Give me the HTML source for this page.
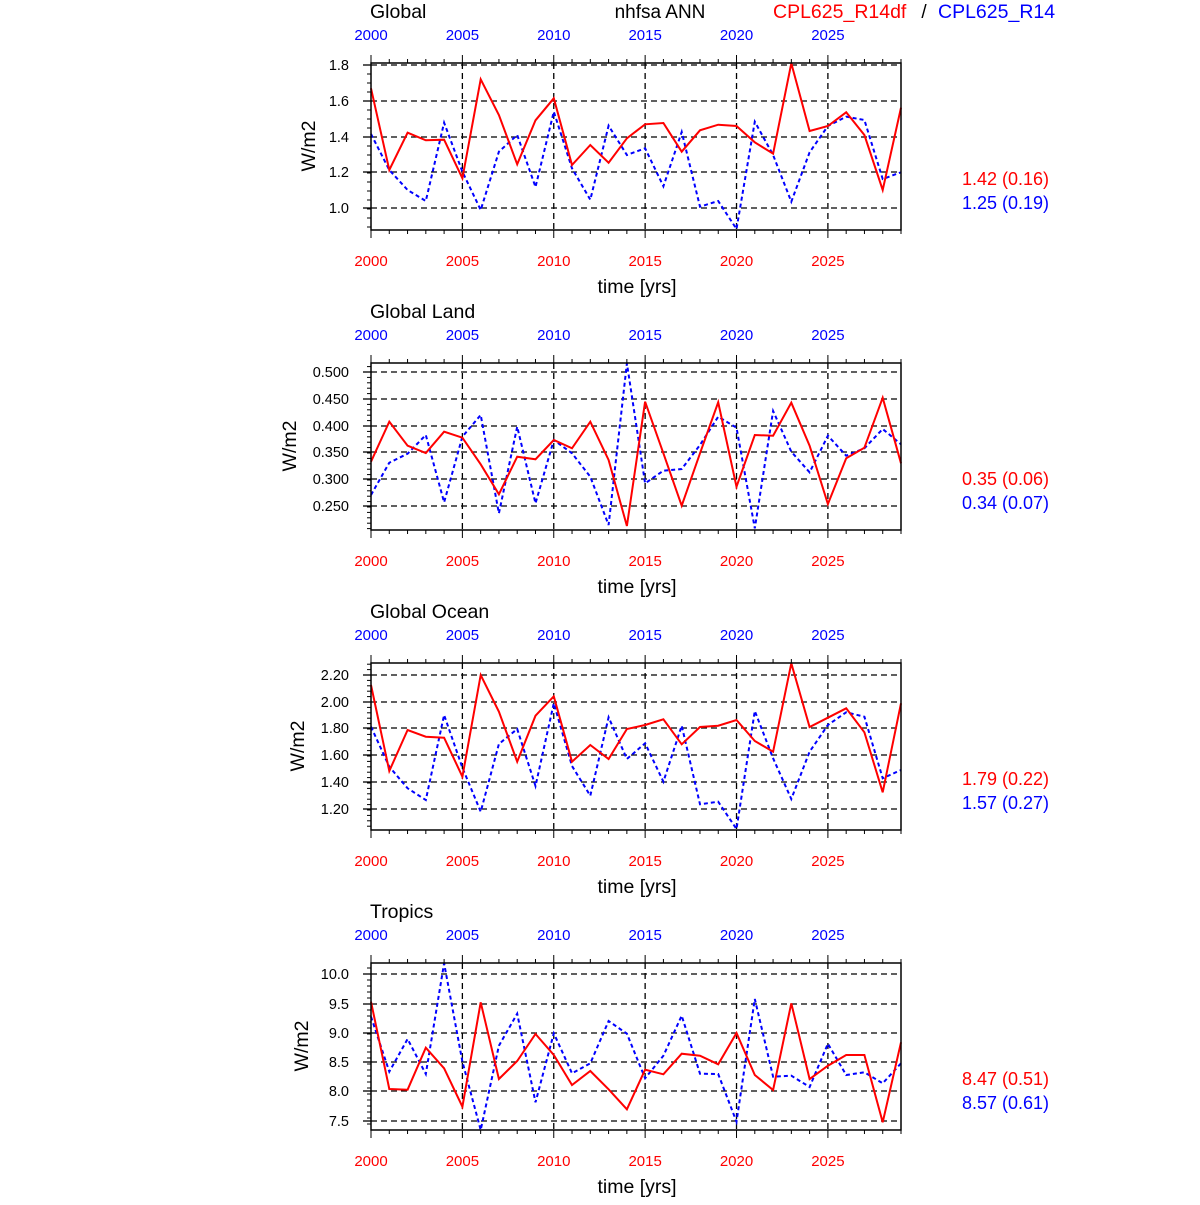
<!DOCTYPE html>
<html><head><meta charset="utf-8"><style>
html,body{margin:0;padding:0;background:#fff;}
svg text{font-family:"Liberation Sans",sans-serif;}
</style></head><body>
<svg id="s" width="1200" height="1200" xmlns="http://www.w3.org/2000/svg"></svg>
<script>
const S=document.getElementById('s');
let h='';
const X0=371,X1=901,DX=(X1-X0)/29;
const px=i=>X0+DX*i;
h+='<text x="660" y="18" font-size="19" text-anchor="middle">nhfsa ANN</text>';
h+='<text x="773" y="18" font-size="19.5" fill="#f00">CPL625_R14df</text>';
h+='<text x="924" y="18" font-size="19" text-anchor="middle">/</text>';
h+='<text x="938" y="18" font-size="19.5" fill="#00f">CPL625_R14</text>';
const P=[
{t:'Global',yx:315,yl:[['1.8',65],['1.6',101],['1.4',137],['1.2',172],['1.0',208]],minor:4,
r:[100,345,233,256,254,370,73,180,328,196,130,330,270,323,250,208,204,290,226,209,213,262,296,25,228,213,172,240,405,158],
b:[237,345,405,438,203,350,465,290,240,396,170,340,434,212,300,280,394,231,455,438,522,200,300,440,292,213,185,195,372,352],
s:['1.42 (0.16)','1.25 (0.19)'],off:55},
{t:'Global Land',yx:296,yl:[['0.500',372],['0.450',399],['0.400',426],['0.350',452],['0.300',479],['0.250',506]],minor:5,
r:[320,200,272,294,230,248,328,418,305,313,255,280,200,315,513,140,295,452,295,142,395,240,242,143,272,447,310,278,128,325],
b:[420,323,296,240,442,245,180,475,215,445,255,295,365,510,25,385,347,342,270,185,218,520,168,290,352,242,302,280,222,268],
s:['0.35 (0.06)','0.34 (0.07)'],off:355},
{t:'Global Ocean',yx:304,yl:[['2.20',675],['2.00',702],['1.80',728],['1.60',755],['1.40',782],['1.20',809]],minor:5,
r:[90,348,225,245,248,365,60,170,320,182,124,320,270,312,222,210,193,268,216,212,195,258,290,25,216,188,160,232,412,145],
b:[215,335,400,435,180,338,470,267,222,393,145,333,422,187,312,265,380,212,448,440,522,168,310,432,290,210,172,185,370,345],
s:['1.79 (0.22)','1.57 (0.27)'],off:655},
{t:'Tropics',yx:308,yl:[['10.0',974],['9.5',1004],['9.0',1033],['8.5',1062],['8.0',1091],['7.5',1121]],minor:5,
r:[140,402,404,278,340,455,142,372,318,237,300,390,348,403,463,344,358,296,302,328,234,360,405,145,372,332,300,300,502,262],
b:[185,350,252,357,25,320,525,272,176,442,235,355,325,198,236,370,302,182,356,357,500,132,365,362,396,266,360,352,385,325],
s:['8.47 (0.51)','8.57 (0.61)'],off:955}
];
P.forEach((p,k)=>{
 const d=300*k, T=63+d, B=230+d;
 h+=`<text x="370" y="${18+d}" font-size="19.5">${p.t}</text>`;
 for(let y=2000;y<=2025;y+=5){const x=px(y-2000);
  h+=`<text x="${x}" y="${40+d}" font-size="15" fill="#00f" text-anchor="middle">${y}</text>`;
  h+=`<text x="${x}" y="${266+d}" font-size="15" fill="#f00" text-anchor="middle">${y}</text>`;}
 p.yl.forEach(([l,y])=>{h+=`<line x1="${X0}" x2="${X1}" y1="${y}" y2="${y}" stroke="#000" stroke-width="1.3" stroke-dasharray="6,4"/>`;
  h+=`<line x1="${X0-8}" x2="${X0}" y1="${y}" y2="${y}" stroke="#000" stroke-width="1.3"/>`;
  h+=`<text x="${X0-22}" y="${y+5}" font-size="14.5" text-anchor="end">${l}</text>`;});
 const sp=p.yl[1][1]-p.yl[0][1];
 for(let y=p.yl[0][1]-sp;y<B+sp;y+=sp/p.minor){if(y>T&&y<B)h+=`<line x1="${X0-4}" x2="${X0}" y1="${y}" y2="${y}" stroke="#000" stroke-width="1"/>`;}
 for(let y=2005;y<=2025;y+=5){const x=px(y-2000);h+=`<line x1="${x}" x2="${x}" y1="${T}" y2="${B}" stroke="#000" stroke-width="1.3" stroke-dasharray="6,4"/>`;}
 for(let i=0;i<=29;i++){const x=px(i),L=i%5==0?8:4;
  h+=`<line x1="${x}" x2="${x}" y1="${T-L}" y2="${T}" stroke="#000" stroke-width="1"/>`;
  h+=`<line x1="${x}" x2="${x}" y1="${B}" y2="${B+L}" stroke="#000" stroke-width="1"/>`;}
 const pts=a=>a.map((v,i)=>px(i).toFixed(1)+','+(p.off+v/3).toFixed(1)).join(' ');
 h+=`<polyline points="${pts(p.b)}" fill="none" stroke="#00f" stroke-width="2" stroke-dasharray="4,3"/>`;
 h+=`<polyline points="${pts(p.r)}" fill="none" stroke="#f00" stroke-width="2"/>`;
 h+=`<rect x="${X0}" y="${T}" width="${X1-X0}" height="${B-T}" fill="none" stroke="#000" stroke-width="1.5"/>`;
 h+=`<text transform="translate(${p.yx},${146+d}) rotate(-90)" font-size="19.5" text-anchor="middle">W/m2</text>`;
 h+=`<text x="637" y="${293+d}" font-size="19.5" text-anchor="middle">time [yrs]</text>`;
 h+=`<text x="962" y="${185+d}" font-size="18" fill="#f00">${p.s[0]}</text>`;
 h+=`<text x="962" y="${209+d}" font-size="18" fill="#00f">${p.s[1]}</text>`;
});
S.innerHTML=h;
</script>
</body></html>
